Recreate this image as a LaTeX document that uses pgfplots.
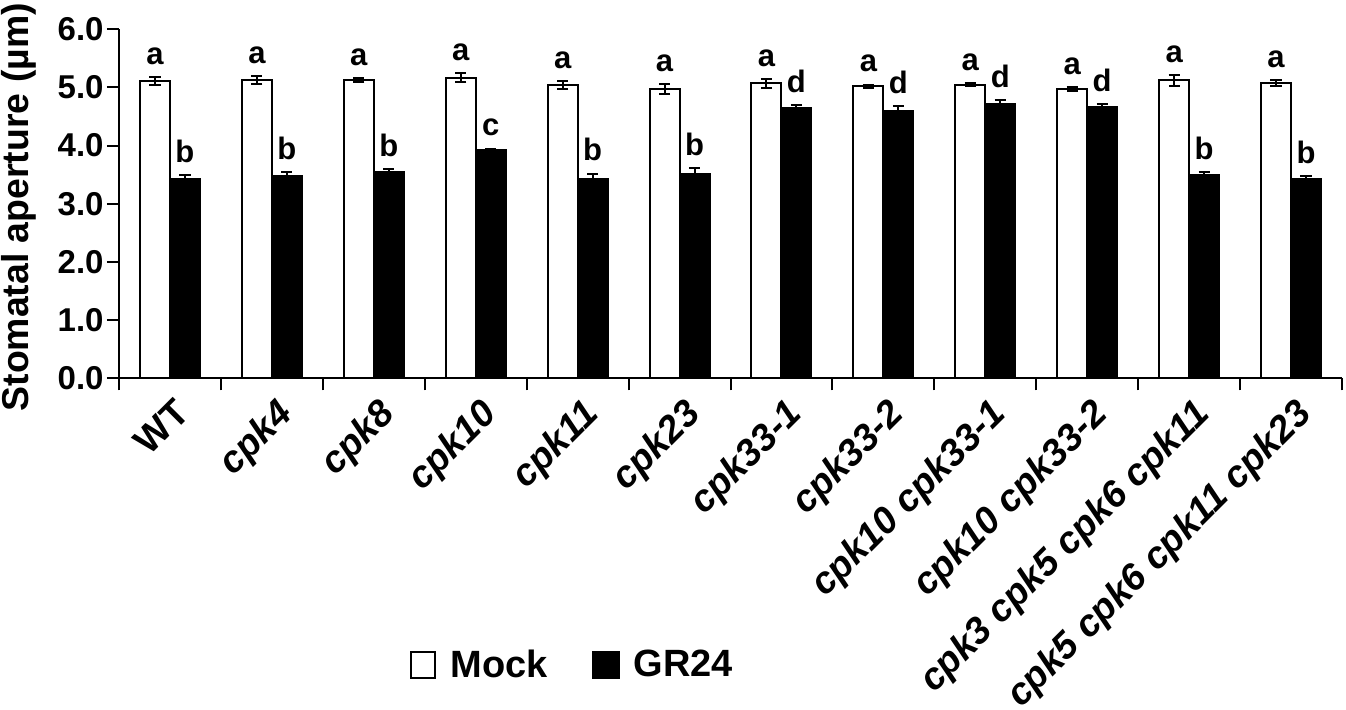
\documentclass[border=0pt]{standalone}
\usepackage{fontspec}
\setmainfont{Liberation Sans}
\usepackage{pgfplots}
\usepackage{pgfplotstable}
\pgfplotsset{compat=1.18}

\pgfplotstableread{
x m me g ge ml gl
0 5.11 0.07 3.43 0.06 a b
1 5.13 0.07 3.48 0.06 a b
2 5.13 0.03 3.54 0.06 a b
3 5.17 0.08 3.92 0.03 a c
4 5.04 0.07 3.43 0.09 a b
5 4.97 0.09 3.52 0.09 a b
6 5.07 0.08 4.64 0.06 a d
7 5.02 0.03 4.60 0.08 a d
8 5.05 0.03 4.71 0.07 a d
9 4.97 0.03 4.66 0.06 a d
10 5.12 0.09 3.50 0.05 a b
11 5.08 0.05 3.43 0.05 a b
}\data

\begin{document}
\begin{tikzpicture}
\useasboundingbox (-59.5pt,-165.85pt) rectangle (613.5pt,189.15pt);
\begin{axis}[
  scale only axis, width=611.5pt, height=174.5pt,
  ybar, bar width=15pt,
  xmin=-0.5, xmax=11.5, ymin=0, ymax=6, enlargelimits=false,
  axis x line*=bottom, axis y line*=left,
  axis line style={line width=1pt, black},
  tick style={black, line width=1pt},
  tick align=outside, major tick length=6pt, minor tick length=6pt,
  xtick={0,...,11},
  minor xtick={-0.5,0.5,...,11.5},
  major x tick style={draw=none},
  xticklabels={{\upshape WT},cpk4,cpk8,cpk10,cpk11,cpk23,cpk33-1,cpk33-2,cpk10 cpk33-1,cpk10 cpk33-2,cpk3 cpk5 cpk6 cpk11,cpk5 cpk6 cpk11 cpk23},
  xticklabel style={anchor=north east, inner sep=0pt, font=\fontsize{18.8}{18.8}\selectfont\bfseries\itshape, xshift=1.5pt, yshift=-3pt, rotate=45},
  ytick={0,1,...,6},
  yticklabels={0.0,1.0,2.0,3.0,4.0,5.0,6.0},
  yticklabel style={font=\fontsize{16.5}{17}\selectfont\bfseries, inner sep=1.5pt},
  ylabel={Stomatal aperture (µm)},
  ylabel style={at={([xshift=-41pt]axis description cs:0,0.49)}, anchor=south, font=\fontsize{18.7}{18.7}\selectfont\bfseries, inner sep=0pt},
  legend columns=2,
  legend style={at={(0.238,-0.8215)}, anchor=west, draw=none, fill=none, inner sep=0pt,
    font=\fontsize{19}{19}\selectfont\bfseries,
    nodes={inner sep=0pt},
    /tikz/every odd column/.append style={column sep=7pt},
    /tikz/every even column/.append style={column sep=22pt}},
  every node near coord/.append style={anchor=south, inner sep=0pt, yshift=6pt, font=\fontsize{15.5}{16}\selectfont\bfseries, black},
]
\addplot[fill=white, draw=black, line width=1pt, bar shift=-7.5pt,
  legend image code/.code={\draw[line width=1pt, draw=black, fill=white] (0pt,-6.5pt) rectangle (12pt,6.5pt);},
  error bars/.cd, y dir=both, y explicit,
  error bar style={line width=1pt, black},
  error mark options={rotate=90, mark size=2.8pt, line width=1pt, black}]
  table[x=x, y=m, y error=me] {\data};
\addlegendentry{Mock}
\addplot[fill=black, draw=black, line width=1pt, bar shift=7.5pt,
  legend image code/.code={\draw[line width=1pt, draw=black, fill=black] (0pt,-6.5pt) rectangle (13pt,6.5pt);},
  error bars/.cd, y dir=both, y explicit,
  error bar style={line width=1pt, black},
  error mark options={rotate=90, mark size=2.8pt, line width=1pt, black}]
  table[x=x, y=g, y error=ge] {\data};
\addlegendentry{GR24}
\addplot[draw=none, fill=none, bar shift=-7.5pt, forget plot,
  nodes near coords, point meta=explicit symbolic]
  table[x=x, y expr=\thisrow{m}+\thisrow{me}, meta=ml] {\data};
\addplot[draw=none, fill=none, bar shift=7.5pt, forget plot,
  nodes near coords, point meta=explicit symbolic]
  table[x=x, y expr=\thisrow{g}+\thisrow{ge}, meta=gl] {\data};
\end{axis}
\end{tikzpicture}
\end{document}
